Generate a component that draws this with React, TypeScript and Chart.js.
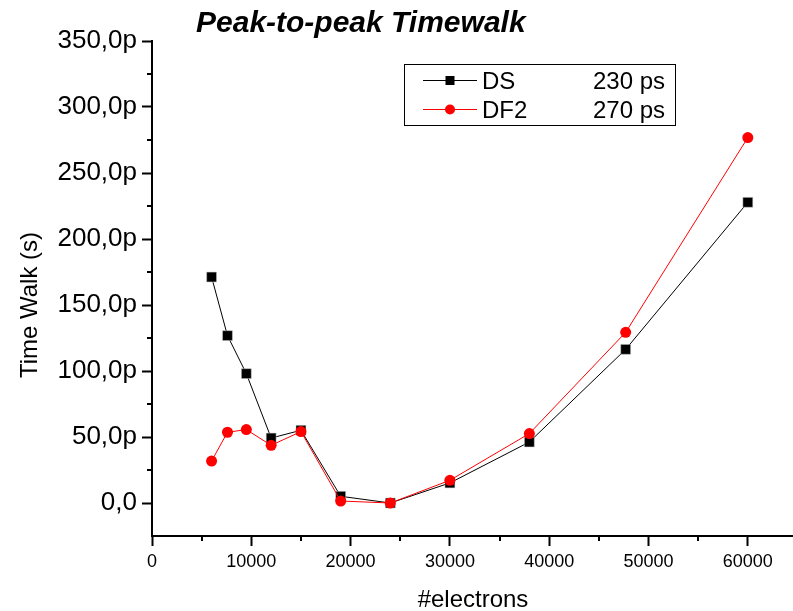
import { useEffect, useRef } from 'react';
import { Chart, registerables } from 'chart.js';

Chart.register(...registerables);

// ---- data ----
const electrons = [6000, 7600, 9500, 12000, 15000, 19000, 24000, 30000, 38000, 47700, 60000];
const dsValues = [171.2, 126.8, 98.0, 49.2, 55.1, 5.1, 0, 15.2, 46.2, 116.4, 227.8];
const df2Values = [31.8, 53.6, 55.6, 43.7, 54.1, 1.5, 0, 17.2, 52.6, 129.3, 276.8];
const seriesNames = ['DS', 'DF2'];
const seriesNotes = ['230 ps', '270 ps'];
const seriesColors = ['#000000', '#ff0000'];
const seriesShapes = ['rect', 'circle'];
const chartTitle = 'Peak-to-peak Timewalk';
const xTitle = '#electrons';
const yTitle = 'Time Walk (s)';
const xMajorTicks = [0, 10000, 20000, 30000, 40000, 50000, 60000];
const xMinorTicks = [5000, 15000, 25000, 35000, 45000, 55000];
const yMajorTicks = [0, 50, 100, 150, 200, 250, 300, 350];
const yMinorTicks = [25, 75, 125, 175, 225, 275, 325];

const FONT = "'Liberation Sans', Arial, Helvetica, sans-serif";

const formatY = (v: number) => (v === 0 ? '0,0' : `${v.toFixed(1).replace('.', ',')}p`);

const decorPlugin = {
  id: 'decor',
  afterDraw(chart: any) {
    const ctx = chart.ctx as CanvasRenderingContext2D;
    const xs = chart.scales.x;
    const ys = chart.scales.y;
    const area = chart.chartArea;
    ctx.save();
    // minor ticks
    ctx.strokeStyle = '#000';
    ctx.lineWidth = 2;
    ctx.beginPath();
    xMinorTicks.forEach((v) => {
      const px = Math.round(xs.getPixelForValue(v));
      ctx.moveTo(px, area.bottom);
      ctx.lineTo(px, area.bottom + 5);
    });
    yMinorTicks.forEach((v) => {
      const py = Math.round(ys.getPixelForValue(v));
      ctx.moveTo(area.left, py);
      ctx.lineTo(area.left - 5, py);
    });
    ctx.stroke();

    // title
    ctx.fillStyle = '#000';
    ctx.font = `italic bold 30px ${FONT}`;
    ctx.textAlign = 'left';
    ctx.textBaseline = 'alphabetic';
    ctx.fillText(chartTitle, 196, 32);

    // axis titles
    ctx.font = `24px ${FONT}`;
    ctx.textAlign = 'center';
    ctx.fillText(xTitle, 473, 607);
    ctx.save();
    ctx.translate(37, 305);
    ctx.rotate(-Math.PI / 2);
    ctx.fillText(yTitle, 0, 0);
    ctx.restore();

    // legend
    ctx.lineWidth = 1;
    ctx.strokeStyle = '#000';
    ctx.strokeRect(404.5, 64.5, 271, 61);
    const rows = [80.5, 109.5];
    seriesNames.forEach((name, i) => {
      const y = rows[i];
      ctx.strokeStyle = seriesColors[i];
      ctx.lineWidth = 1;
      ctx.beginPath();
      ctx.moveTo(423, y);
      ctx.lineTo(477, y);
      ctx.stroke();
      ctx.fillStyle = seriesColors[i];
      if (seriesShapes[i] === 'rect') {
        ctx.fillRect(450 - 4.5, y - 4.5, 9, 9);
      } else {
        ctx.beginPath();
        ctx.arc(450, y, 5, 0, Math.PI * 2);
        ctx.fill();
      }
      ctx.fillStyle = '#000';
      ctx.font = `24px ${FONT}`;
      ctx.textAlign = 'left';
      ctx.fillText(name, 482, y + 8.5);
      ctx.fillText(seriesNotes[i], 593, y + 8.5);
    });
    ctx.restore();
  },
};

export default function App() {
  const ref = useRef<HTMLCanvasElement | null>(null);
  useEffect(() => {
    if (!ref.current) return;
    const chart = new Chart(ref.current, {
      type: 'line',
      data: {
        datasets: [
          {
            label: seriesNames[0],
            data: electrons.map((x, i) => ({ x, y: dsValues[i] })),
            borderColor: seriesColors[0],
            backgroundColor: seriesColors[0],
            pointBackgroundColor: seriesColors[0],
            pointBorderColor: '#cccccc',
            pointBorderWidth: 0.5,
            pointStyle: 'rect',
            pointRadius: 7,
            borderWidth: 1,
            tension: 0,
            order: 2,
          },
          {
            label: seriesNames[1],
            data: electrons.map((x, i) => ({ x, y: df2Values[i] })),
            borderColor: seriesColors[1],
            backgroundColor: seriesColors[1],
            pointBackgroundColor: seriesColors[1],
            pointBorderColor: seriesColors[1],
            pointBorderWidth: 0,
            pointStyle: 'circle',
            pointRadius: 5.5,
            borderWidth: 1,
            tension: 0,
            order: 1,
          },
        ],
      },
      options: {
        responsive: false,
        animation: false,
        layout: { autoPadding: false, padding: { top: 41, left: 0, right: 0, bottom: 0 } },
        plugins: {
          legend: { display: false },
          title: { display: false },
          tooltip: { enabled: false },
        },
        scales: {
          x: {
            type: 'linear',
            min: 0,
            max: 64550,
            afterBuildTicks: (s: any) => {
              s.ticks = xMajorTicks.map((value) => ({ value }));
            },
            afterFit: (s: any) => {
              s.height = 75;
              s.paddingLeft = 0;
              s.paddingRight = 0;
            },
            border: { display: true, color: '#000', width: 2 },
            grid: {
              drawOnChartArea: false,
              drawTicks: true,
              tickLength: 10,
              tickWidth: 2,
              tickColor: '#000',
            },
            ticks: {
              autoSkip: false,
              maxRotation: 0,
              padding: 5,
              color: '#000',
              font: { family: FONT, size: 18 },
              callback: (v: any) => String(v),
            },
          },
          y: {
            type: 'linear',
            min: -25,
            max: 350,
            afterBuildTicks: (s: any) => {
              s.ticks = yMajorTicks.map((value) => ({ value }));
            },
            afterFit: (s: any) => {
              s.width = 152;
              s.paddingTop = 0;
              s.paddingBottom = 0;
            },
            border: { display: true, color: '#000', width: 2 },
            grid: {
              drawOnChartArea: false,
              drawTicks: true,
              tickLength: 10,
              tickWidth: 2,
              tickColor: '#000',
            },
            ticks: {
              autoSkip: false,
              padding: 5,
              color: '#000',
              font: { family: FONT, size: 26 },
              callback: (v: any) => formatY(Number(v)),
            },
          },
        },
      },
      plugins: [decorPlugin],
    } as any);
    return () => chart.destroy();
  }, []);
  return (
    <div style={{ position: 'absolute', left: 0, top: 0, width: 793, height: 611, background: '#fff' }}>
      <canvas ref={ref} width={793} height={611} style={{ display: 'block' }} />
    </div>
  );
}
